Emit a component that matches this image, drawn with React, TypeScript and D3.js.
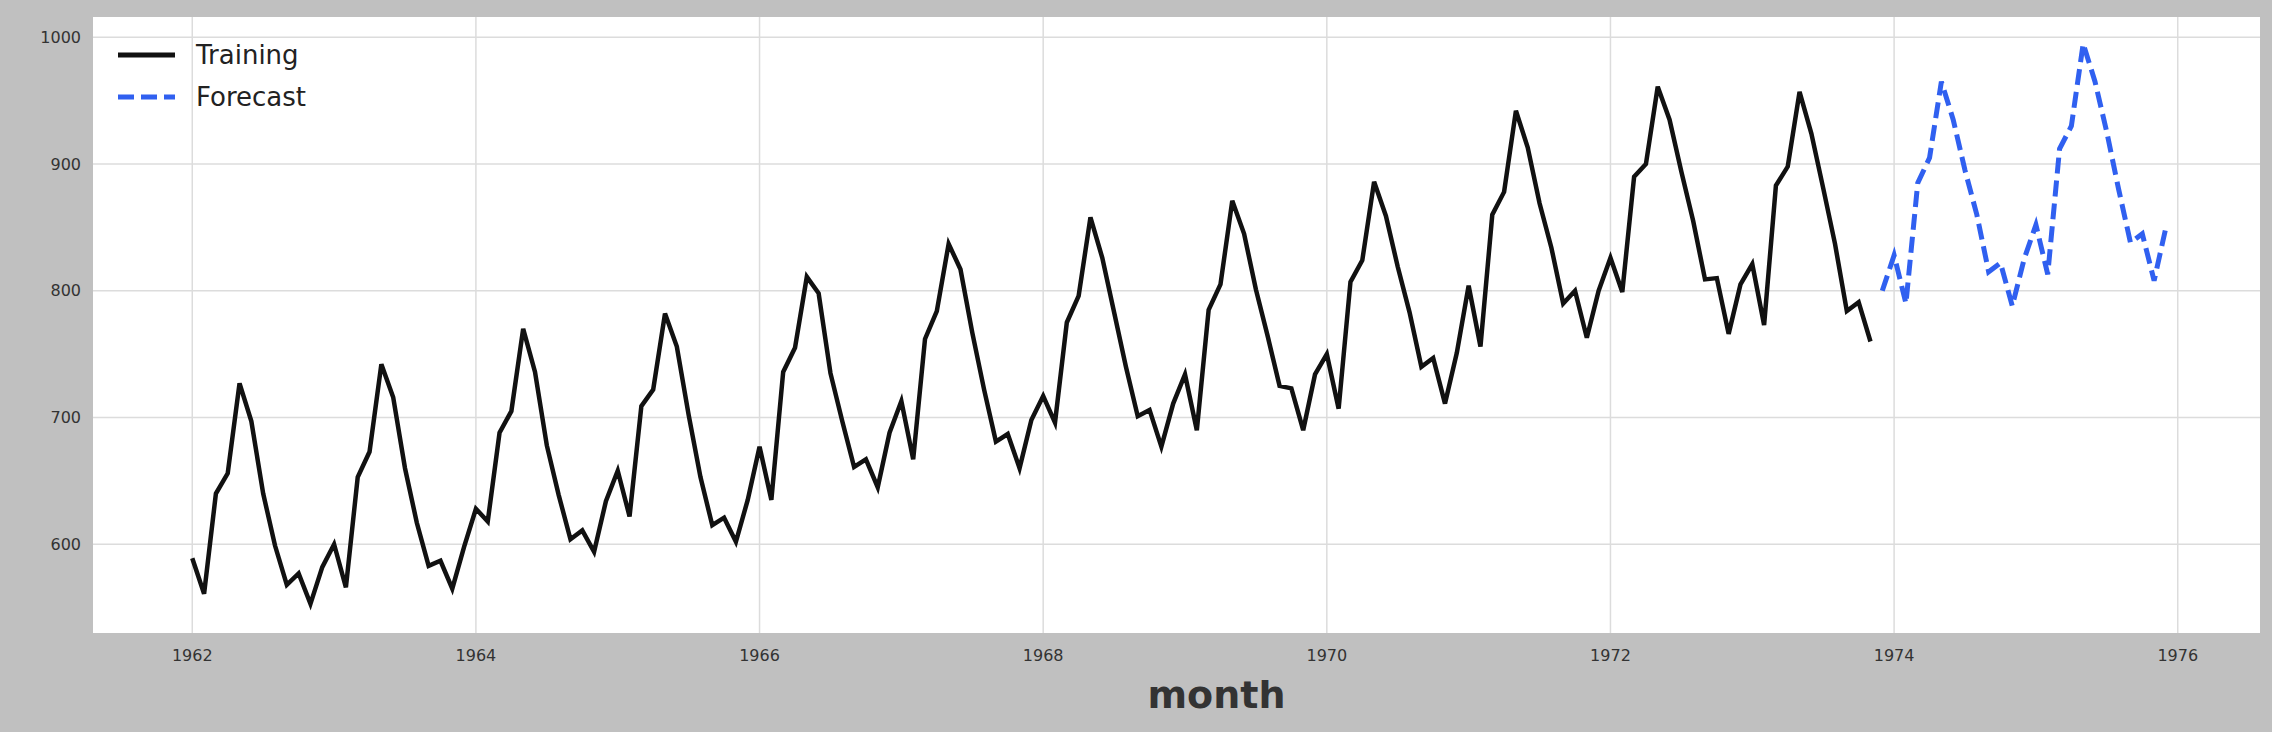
import React, { useRef, useEffect } from "react";
import * as d3 from "d3";

// monthly values, Jan 1962 .. Nov 1973
const training: number[] = [
  589, 561, 640, 656, 727, 697, 640, 599, 568, 577, 553, 582,
  600, 566, 653, 673, 742, 716, 660, 617, 583, 587, 565, 598,
  628, 618, 688, 705, 770, 736, 678, 639, 604, 611, 594, 634,
  658, 622, 709, 722, 782, 756, 702, 653, 615, 621, 602, 635,
  677, 635, 736, 755, 811, 798, 735, 697, 661, 667, 645, 688,
  713, 667, 762, 784, 837, 817, 767, 722, 681, 687, 660, 698,
  717, 696, 775, 796, 858, 826, 783, 740, 701, 706, 677, 711,
  734, 690, 785, 805, 871, 845, 801, 764, 725, 723, 690, 734,
  750, 707, 807, 824, 886, 859, 819, 783, 740, 747, 711, 751,
  804, 756, 860, 878, 942, 913, 869, 834, 790, 800, 763, 800,
  826, 799, 890, 900, 961, 935, 894, 855, 809, 810, 766, 805,
  821, 773, 883, 898, 957, 924, 881, 837, 784, 791, 760,
];
// Dec 1973 .. Dec 1975
const forecast: number[] = [
  800, 828, 790, 885, 905, 965, 935, 895, 860, 815, 822, 788, 825,
  852, 813, 912, 930, 995, 965, 925, 880, 838, 845, 808, 850,
];
const xTicks = [1962, 1964, 1966, 1968, 1970, 1972, 1974, 1976];
const yTicks = [600, 700, 800, 900, 1000];

const W = 2272, H = 732;
const M = { left: 93, right: 12, top: 17, bottom: 99 };

const App: React.FC = () => {
  const ref = useRef<SVGSVGElement | null>(null);

  useEffect(() => {
    if (!ref.current) return;
    const svg = d3.select(ref.current);
    svg.selectAll("*").remove();

    const x = d3.scaleLinear().domain([1961.3, 1976.58]).range([M.left, W - M.right]);
    const y = d3.scaleLinear().domain([530, 1016]).range([H - M.bottom, M.top]);

    svg.append("rect").attr("width", W).attr("height", H).attr("fill", "#c0c0c0");
    svg.append("rect")
      .attr("x", M.left).attr("y", M.top)
      .attr("width", W - M.left - M.right).attr("height", H - M.top - M.bottom)
      .attr("fill", "#fff");

    const g = svg.append("g");
    g.selectAll(".gx").data(xTicks).enter().append("line")
      .attr("x1", (d) => x(d)).attr("x2", (d) => x(d))
      .attr("y1", M.top).attr("y2", H - M.bottom)
      .attr("stroke", "#dcdcdc").attr("stroke-width", 1.5);
    g.selectAll(".gy").data(yTicks).enter().append("line")
      .attr("x1", M.left).attr("x2", W - M.right)
      .attr("y1", (d) => y(d)).attr("y2", (d) => y(d))
      .attr("stroke", "#dcdcdc").attr("stroke-width", 1.5);

    g.selectAll(".tx").data(xTicks).enter().append("text")
      .attr("x", (d) => x(d)).attr("y", H - M.bottom + 28)
      .attr("text-anchor", "middle").attr("font-size", 16)
      .attr("font-family", "DejaVu Sans").attr("fill", "#333")
      .text((d) => d);
    g.selectAll(".ty").data(yTicks).enter().append("text")
      .attr("x", M.left - 12).attr("y", (d) => y(d)).attr("dy", "0.35em")
      .attr("text-anchor", "end").attr("font-size", 16)
      .attr("font-family", "DejaVu Sans").attr("fill", "#333")
      .text((d) => d);

    svg.append("text")
      .attr("x", (M.left + W - M.right) / 2 + 40).attr("y", 708)
      .attr("text-anchor", "middle").attr("font-size", 38).attr("font-weight", "bold")
      .attr("font-family", "DejaVu Sans").attr("fill", "#333")
      .text("month");

    const line = d3.line<number>()
      .x((_, i) => x(1962 + i / 12))
      .y((d) => y(d));
    const fline = d3.line<number>()
      .x((_, i) => x(1962 + (training.length + i) / 12))
      .y((d) => y(d));

    svg.append("path").datum(training).attr("d", line)
      .attr("fill", "none").attr("stroke", "#111").attr("stroke-width", 4.5);
    svg.append("path").datum(forecast).attr("d", fline)
      .attr("fill", "none").attr("stroke", "#3060f0").attr("stroke-width", 5)
      .attr("stroke-dasharray", "16,7");

    const legend = [
      { label: "Training", color: "#111", dash: "none" },
      { label: "Forecast", color: "#3060f0", dash: "16,7" },
    ];
    const lg = svg.append("g").attr("transform", `translate(${M.left + 25},${M.top + 38})`);
    legend.forEach((d, i) => {
      lg.append("line").attr("x1", 0).attr("x2", 57)
        .attr("y1", i * 42).attr("y2", i * 42)
        .attr("stroke", d.color).attr("stroke-width", 5).attr("stroke-dasharray", d.dash);
      lg.append("text").attr("x", 78).attr("y", i * 42).attr("dy", "0.35em")
        .attr("font-size", 26).attr("font-family", "DejaVu Sans").attr("fill", "#222")
        .text(d.label);
    });
  }, []);

  return (
    <div style={{ position: "fixed", left: 0, top: 0 }}>
      <svg ref={ref} width={W} height={H} style={{ display: "block" }} />
    </div>
  );
};

export default App;
